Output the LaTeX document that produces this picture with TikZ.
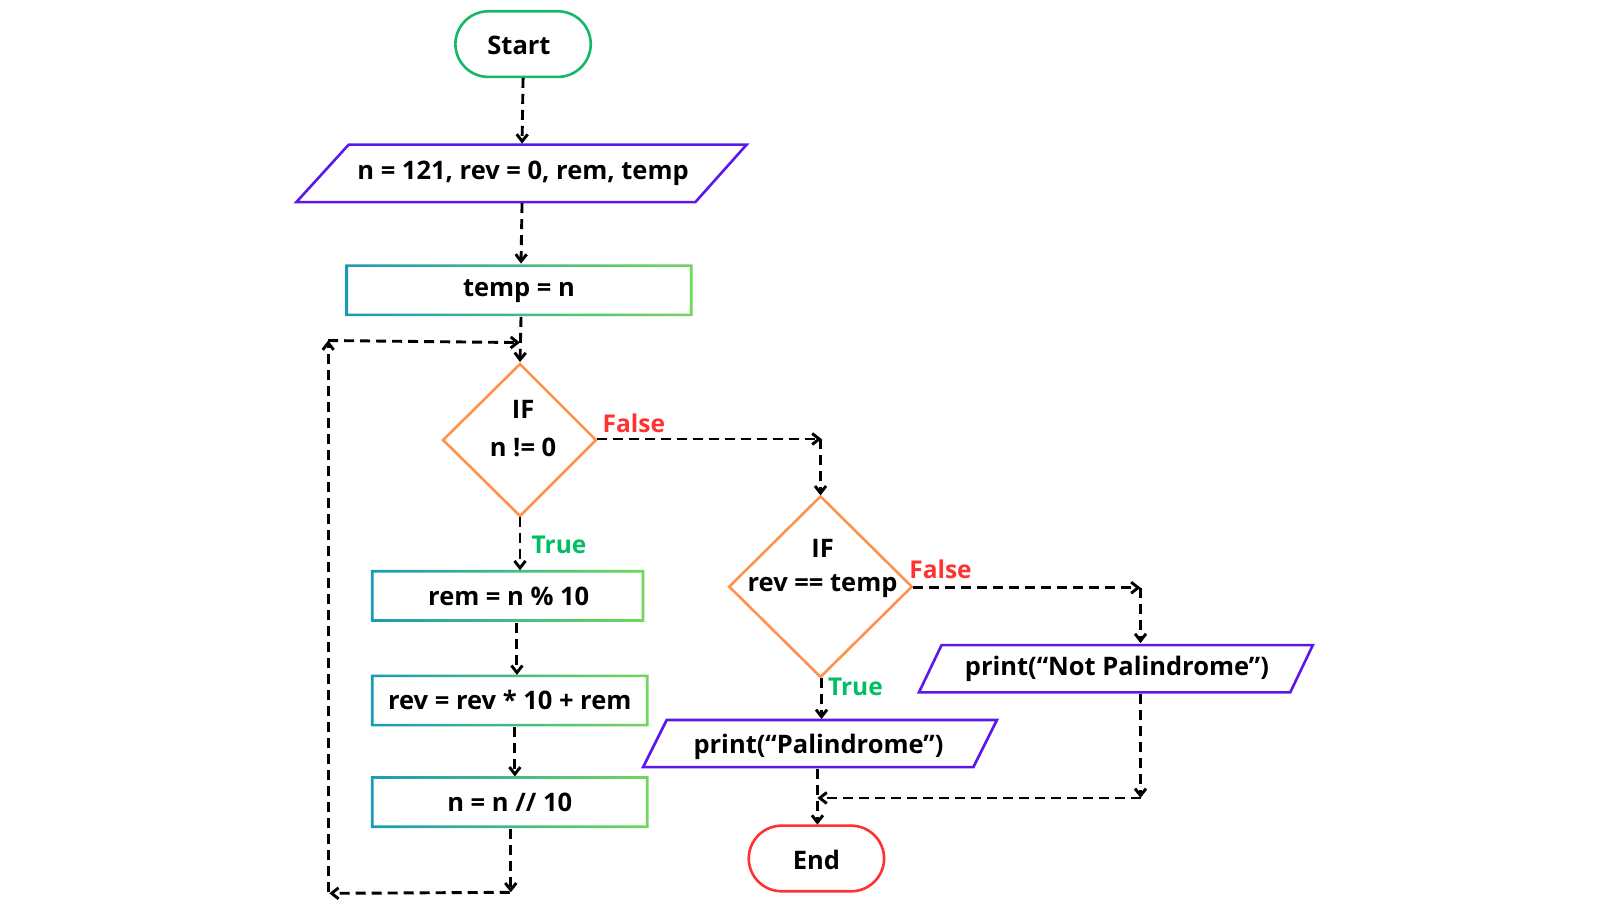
\documentclass[tikz,border=0pt]{standalone}
\usepackage{fontspec}
\setmainfont{Open Sans}
\usetikzlibrary{arrows.meta,shapes.geometric}
\definecolor{cgreen}{HTML}{14B866}
\definecolor{cpurple}{HTML}{5E17EB}
\definecolor{corange}{HTML}{FF914D}
\definecolor{cred}{HTML}{FF3131}
\definecolor{ccyan}{HTML}{1A9BB5}
\definecolor{clime}{HTML}{72D65A}
\definecolor{ttrue}{HTML}{00BF63}
\begin{document}
\begin{tikzpicture}[x=1.0256pt,y=-1.0256pt,
  txt/.style={font=\fontsize{25.5}{30}\selectfont\bfseries,inner sep=0pt},
  lbl/.style={font=\fontsize{24.5}{28}\selectfont\bfseries,inner sep=0pt},
  conn/.style={line width=2.9pt,dash pattern=on 10pt off 6pt,-{Straight Barb[length=7pt,width=11pt]}},
  term/.style={rounded corners=33pt,line width=2.6pt},
  para/.style={draw=cpurple,line width=2.6pt,line join=miter}]
\useasboundingbox (0,0) rectangle (1560,877.5);
\fill[white] (0,0) rectangle (1560,877.5);
% start
\draw[term,draw=cgreen] (444,11) rectangle (576,75);
\node[txt] (start) at (506,44) {Start};
\coordinate (startb) at (510,76);
% input
\draw[para] (340,141) -- (728,141) -- (678,197) -- (289,197) -- cycle;
\node[txt] (inp) at (510,169) {n = 121, rev = 0, rem, temp};
\coordinate (inpt) at (509,140); \coordinate (inpb) at (509,198);
% gradient boxes
\foreach \a/\b/\c/\d in {338/259/674/307,363/557/627/605,363/659/631/707,363/758/631/806}{
  \shade[left color=ccyan,right color=clime,even odd rule]
   (\a-1.3,\b-1.3) rectangle (\c+1.3,\d+1.3) (\a+1.3,\b+1.3) rectangle (\c-1.3,\d-1.3);}
\node[txt] (tmp) at (506,284) {temp = n};
\node[txt] (rem) at (496,581) {rem = n \% 10};
\node[txt] (rev) at (497,682) {rev = rev * 10 + rem};
\node[txt] (nn) at (497,782) {n = n // 10};
% diamond 1
\draw[draw=corange,line width=2.6pt] (507,355) -- (581,429) -- (507,503) -- (432,429) -- cycle;
\node[txt] (if1a) at (510,399) {IF};
\node[txt] (if1b) at (510,436) {n != 0};
% diamond 2
\draw[draw=corange,line width=2.6pt] (800,484) -- (889,572) -- (800,660) -- (711,572) -- cycle;
\node[txt] (if2a) at (802,535) {IF};
\node[txt] (if2b) at (802,571) {rev == temp};
% outputs
\draw[para] (918,629) -- (1280,629) -- (1258,675) -- (896,675) -- cycle;
\node[txt] (np) at (1089,652) {print(“Not Palindrome”)};
\draw[para] (650,702) -- (972,702) -- (949,748) -- (627,748) -- cycle;
\node[txt] (pp) at (798,728) {print(“Palindrome”)};
% end
\draw[term,draw=cred] (730,805) rectangle (862,869);
\node[txt] (endn) at (796,838) {End};
% connectors
\draw[conn] (startb) -- (inpt);
\draw[conn] (inpb) -- (508,257);
\draw[conn] (508,309) -- (507,353);
\draw[conn] (507,504) -- (507,556);
\draw[conn] (504,607) -- (504,658);
\draw[conn] (502,709) -- (502,757);
\draw[conn] (498,808) -- (498,870);
\draw[conn] (497,870) -- (321,871);
\draw[conn] (320,870) -- (320,332);
\draw[conn] (320,332) -- (507,334);
\draw[conn] (582,428) -- (801,428);
\draw[conn] (800,428) -- (800,483);
\draw[conn] (890,573) -- (1112,573);
\draw[conn] (1112,573) -- (1112,627);
\draw[conn] (801,661) -- (801,701);
\draw[conn] (1112,677) -- (1112,778);
\draw[conn] (1112,778) -- (797,778);
\draw[conn] (797,750) -- (797,804);
% labels
\node[lbl,text=cred] (f1) at (618,413) {False};
\node[lbl,text=ttrue] (t1) at (545,531) {True};
\node[lbl,text=cred] (f2) at (917,555) {False};
\node[lbl,text=ttrue] (t2) at (834,670) {True};
\end{tikzpicture}
\end{document}
